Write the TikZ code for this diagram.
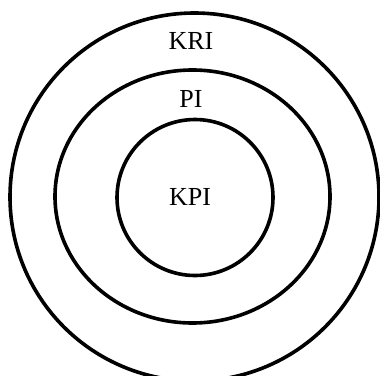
\documentclass[tikz,border=0pt]{standalone}
\usepackage{fontspec}
\setmainfont{Liberation Serif}
\usetikzlibrary{positioning}
\tikzset{
    ring/.style={
        draw=black,
        line width=3.6pt
    },
    label/.style={
        text=black,
        font=\fontsize{26}{30}\selectfont,
        inner sep=0pt
    }
}
\begin{document}
\begin{tikzpicture}[x=1pt, y=-1pt]
        \useasboundingbox (0,0) rectangle (380,375);
        \clip (0,0) rectangle (380,375);

        % Outer ring
        \draw[ring] (194.5,197) ellipse [x radius=184.5, y radius=184];

        % Middle ring
        \draw[ring] (192.5,196.5) ellipse [x radius=137.5, y radius=126.5];

        % Inner ring
        \draw[ring] (195,197.5) circle [radius=78];

        % Labels
        \node[label] (kri) at (191,41) {KRI};
        \node[label] (pi) at (191,99) {PI};
        \node[label] (kpi) at (190,197) {KPI};
    \end{tikzpicture}
\end{document}
